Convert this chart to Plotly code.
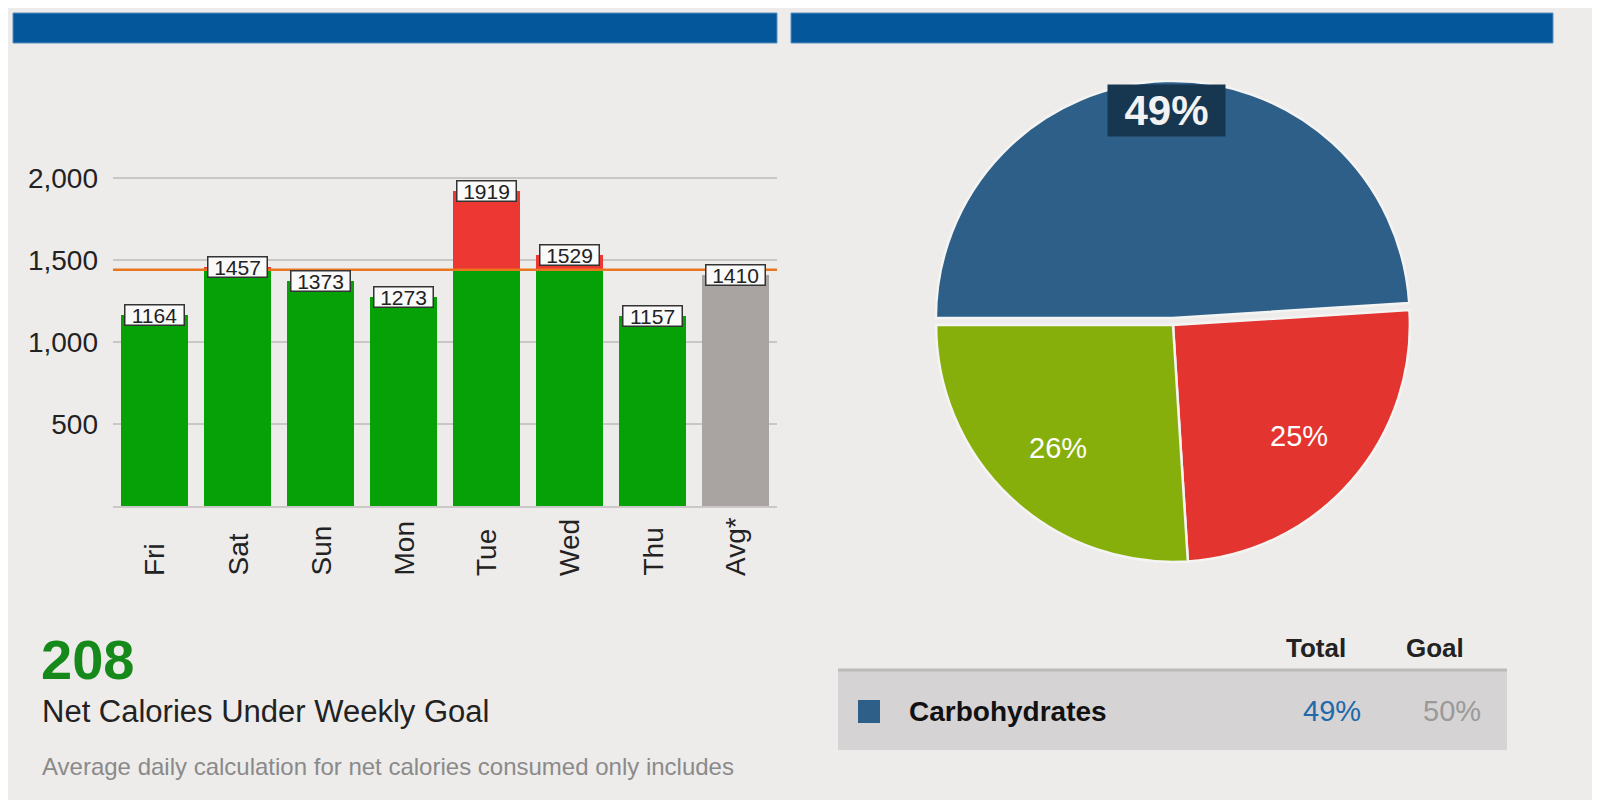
import math
import plotly.graph_objects as go

# ---------------- data ----------------
days = ["Fri", "Sat", "Sun", "Mon", "Tue", "Wed", "Thu"]
calories = [1164, 1457, 1373, 1273, 1919, 1529, 1157]
avg_label = "Avg*"
avg_value = 1410
daily_goal = 1440
y_ticks = [500, 1000, 1500, 2000]
under_goal = 208
headline = "Net Calories Under Weekly Goal"
footnote = "Average daily calculation for net calories consumed only includes"

macro_names = ["Carbohydrates", "Fat", "Protein"]
macro_pct = [49, 25, 26]
macro_goal = [50, 30, 20]
macro_colors = ["#2D5F89", "#E3342F", "#87AF0B"]
macro_pull = [0.03, 0, 0]

# ---------------- styling ----------------
BG = "#EEECEA"
FONT = "Liberation Sans"
W, H = 1600, 800
OFF = 8  # page body margin


def px(x):
    return (x - OFF) / W


def py(y):
    return 1 - (y - OFF) / H


cats = days + [avg_label]
green_part = [min(v, daily_goal) for v in calories]
red_part = [max(v - daily_goal, 0) for v in calories]

fig = go.Figure()
fig.add_trace(go.Bar(x=days, y=green_part, marker=dict(color="#06A106", line=dict(width=0)),
                     hoverinfo="skip", showlegend=False))
fig.add_trace(go.Bar(x=days, y=red_part, marker=dict(color="#EC3732", line=dict(width=0)),
                     hoverinfo="skip", showlegend=False))
fig.add_trace(go.Bar(x=[avg_label], y=[avg_value], marker=dict(color="#A9A4A1", line=dict(width=0)),
                     hoverinfo="skip", showlegend=False))

# pie geometry (pixels)
pie_cx, pie_cy, pie_box = 1173, 325, 488
pie_r = pie_box / (2 + 2 * max(macro_pull))

fig.add_trace(go.Pie(
    labels=macro_names, values=macro_pct, sort=False, direction="clockwise", rotation=-90,
    marker=dict(colors=macro_colors, line=dict(color="#F4F4F2", width=2.5)),
    pull=macro_pull, textinfo="none",
    domain=dict(x=[px(pie_cx - pie_box / 2), px(pie_cx + pie_box / 2)],
                y=[py(pie_cy + pie_box / 2), py(pie_cy - pie_box / 2)]),
    showlegend=False, hoverinfo="skip",
))

y0_px, y2000_px = 506, 178
ymax = 2100
top_px = y0_px - (y0_px - y2000_px) * ymax / 2000

fig.update_layout(
    width=W, height=H, margin=dict(l=0, r=0, t=0, b=0),
    paper_bgcolor=BG, plot_bgcolor=BG,
    barmode="stack", bargap=0.2,
    font=dict(family=FONT, color="#222222"),
    xaxis=dict(domain=[px(113), px(777)], categoryorder="array", categoryarray=cats,
               showticklabels=False, showgrid=False, showline=True, linecolor="#CBC9C8",
               linewidth=2, ticks="", fixedrange=True),
    yaxis=dict(domain=[py(y0_px), py(top_px)], range=[0, ymax], tickvals=y_ticks,
               tickformat=",d", showgrid=True, gridcolor="#C9C7C6", gridwidth=2,
               zeroline=False, showline=False, ticks="",
               tickfont=dict(size=28, color="#222222", family=FONT),
               ticklabelstandoff=14, fixedrange=True),
)

# header bars
for x0, x1 in [(13, 777), (791, 1553)]:
    fig.add_shape(type="rect", xref="paper", yref="paper", x0=px(x0), x1=px(x1),
                  y0=py(43), y1=py(13), fillcolor="#03579A", line=dict(color="#5A8FC0", width=1),
                  layer="below")

# daily goal line
fig.add_shape(type="line", xref="x domain", yref="y", x0=0, x1=1, y0=daily_goal, y1=daily_goal,
              line=dict(color="#E8761F", width=2.5), layer="above")

# value boxes
for c, v in zip(cats, calories + [avg_value]):
    fig.add_annotation(x=c, y=v, xref="x", yref="y", text=str(v), showarrow=False,
                       font=dict(size=21, color="#222222", family=FONT),
                       bgcolor="#FAFAFA", bordercolor="#333333", borderwidth=1.5, borderpad=0,
                       width=58, height=19, xanchor="center", yanchor="middle")

# rotated category labels (start-aligned like the reference)
for c in cats:
    fig.add_annotation(x=c, y=py(578), xref="x", yref="paper", text=c, showarrow=False,
                       textangle=-90, yanchor="bottom", xanchor="center",
                       font=dict(size=28, color="#222222", family=FONT))

# bottom-left text
fig.add_annotation(x=px(39), y=py(659), xref="paper", yref="paper", text=f"<b>{under_goal}</b>",
                   showarrow=False, xanchor="left", yanchor="middle",
                   font=dict(size=56, color="#15891A", family=FONT))
fig.add_annotation(x=px(40), y=py(711), xref="paper", yref="paper", text=headline,
                   showarrow=False, xanchor="left", yanchor="middle",
                   font=dict(size=31, color="#222222", family=FONT))
fig.add_annotation(x=px(40), y=py(766), xref="paper", yref="paper", text=footnote,
                   showarrow=False, xanchor="left", yanchor="middle",
                   font=dict(size=24, color="#8A8A8A", family=FONT))

# pie labels at computed slice mid-angles (clockwise from 9 o'clock)
label_radius = [0.875, 0.71, 0.71]
cum = 0
total = sum(macro_pct)
for i, v in enumerate(macro_pct):
    mid = (cum + v / 2) / total * 360
    cum += v
    ang = math.radians(180 - mid)
    rr = (label_radius[i] + macro_pull[i]) * pie_r
    lx = pie_cx + rr * math.cos(ang)
    ly = pie_cy - rr * math.sin(ang)
    if i == 0:
        fig.add_annotation(x=px(lx), y=py(ly), xref="paper", yref="paper",
                           text=f"<b>{v}%</b>", showarrow=False,
                           font=dict(size=42, color="#F2F2F2", family=FONT),
                           bgcolor="#173650", width=115, height=49,
                           xanchor="center", yanchor="middle")
    else:
        fig.add_annotation(x=px(lx), y=py(ly), xref="paper", yref="paper",
                           text=f"{v}%", showarrow=False,
                           font=dict(size=29, color="#FFFFFF", family=FONT),
                           xanchor="center", yanchor="middle")

# table
fig.add_annotation(x=px(1316), y=py(648), xref="paper", yref="paper", text="<b>Total</b>",
                   showarrow=False, xanchor="center", yanchor="middle",
                   font=dict(size=26, color="#222222", family=FONT))
fig.add_annotation(x=px(1435), y=py(648), xref="paper", yref="paper", text="<b>Goal</b>",
                   showarrow=False, xanchor="center", yanchor="middle",
                   font=dict(size=26, color="#222222", family=FONT))
fig.add_shape(type="rect", xref="paper", yref="paper", x0=px(838), x1=px(1507),
              y0=py(750), y1=py(670), fillcolor="#D6D3D4", line=dict(width=0), layer="below")
fig.add_shape(type="line", xref="paper", yref="paper", x0=px(838), x1=px(1507),
              y0=py(670), y1=py(670), line=dict(color="#BDBABB", width=3), layer="below")
fig.add_shape(type="rect", xref="paper", yref="paper", x0=px(858), x1=px(880),
              y0=py(723), y1=py(700), fillcolor=macro_colors[0], line=dict(width=0))
fig.add_annotation(x=px(907), y=py(711), xref="paper", yref="paper",
                   text=f"<b>{macro_names[0]}</b>", showarrow=False,
                   xanchor="left", yanchor="middle",
                   font=dict(size=28, color="#111111", family=FONT))
fig.add_annotation(x=px(1332), y=py(711), xref="paper", yref="paper",
                   text=f"{macro_pct[0]}%", showarrow=False, xanchor="center", yanchor="middle",
                   font=dict(size=29, color="#2069AB", family=FONT))
fig.add_annotation(x=px(1452), y=py(711), xref="paper", yref="paper",
                   text=f"{macro_goal[0]}%", showarrow=False, xanchor="center", yanchor="middle",
                   font=dict(size=29, color="#9A9A9A", family=FONT))

fig.write_html("out.html")
